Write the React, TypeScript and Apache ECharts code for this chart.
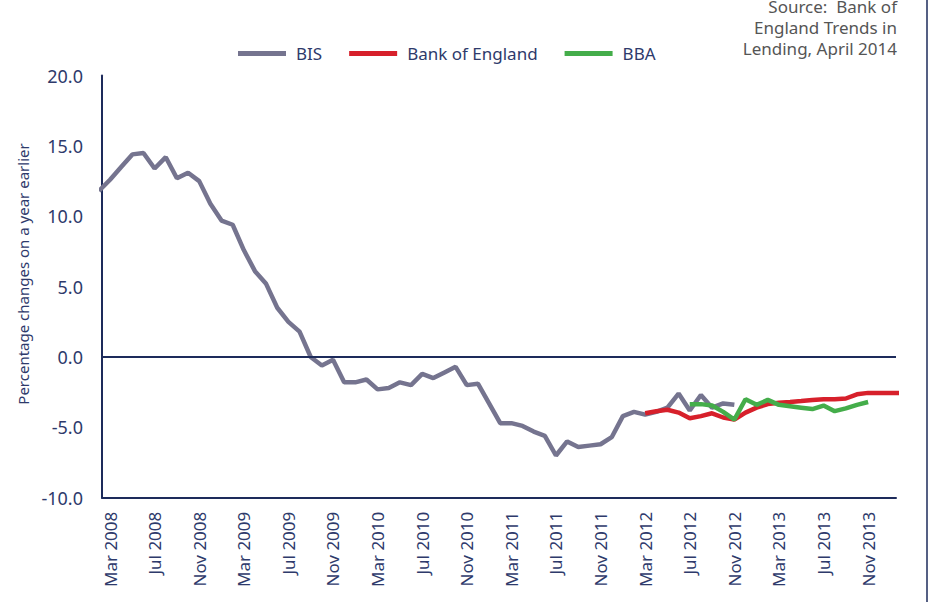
import React, { useEffect, useRef } from "react";
import * as echarts from "echarts";

const months = [
  "Feb 2008", "Mar 2008", "Apr 2008", "May 2008", "Jun 2008", "Jul 2008", "Aug 2008", "Sep 2008", "Oct 2008", "Nov 2008", "Dec 2008",
  "Jan 2009", "Feb 2009", "Mar 2009", "Apr 2009", "May 2009", "Jun 2009", "Jul 2009", "Aug 2009", "Sep 2009", "Oct 2009", "Nov 2009", "Dec 2009",
  "Jan 2010", "Feb 2010", "Mar 2010", "Apr 2010", "May 2010", "Jun 2010", "Jul 2010", "Aug 2010", "Sep 2010", "Oct 2010", "Nov 2010", "Dec 2010",
  "Jan 2011", "Feb 2011", "Mar 2011", "Apr 2011", "May 2011", "Jun 2011", "Jul 2011", "Aug 2011", "Sep 2011", "Oct 2011", "Nov 2011", "Dec 2011",
  "Jan 2012", "Feb 2012", "Mar 2012", "Apr 2012", "May 2012", "Jun 2012", "Jul 2012", "Aug 2012", "Sep 2012", "Oct 2012", "Nov 2012", "Dec 2012",
  "Jan 2013", "Feb 2013", "Mar 2013", "Apr 2013", "May 2013", "Jun 2013", "Jul 2013", "Aug 2013", "Sep 2013", "Oct 2013", "Nov 2013", "Dec 2013",
  "Jan 2014", "Feb 2014",
];

const tickLabels = [
  "Mar 2008", "Jul 2008", "Nov 2008", "Mar 2009", "Jul 2009", "Nov 2009", "Mar 2010", "Jul 2010", "Nov 2010",
  "Mar 2011", "Jul 2011", "Nov 2011", "Mar 2012", "Jul 2012", "Nov 2012", "Mar 2013", "Jul 2013", "Nov 2013",
];

const bisStart = "Feb 2008";
const bisValues = [
  11.8, 12.6, 13.5, 14.4, 14.5, 13.4, 14.2, 12.7, 13.1, 12.5, 10.9,
  9.7, 9.4, 7.6, 6.1, 5.2, 3.5, 2.5, 1.8, 0.0, -0.6, -0.2, -1.8,
  -1.8, -1.6, -2.3, -2.2, -1.8, -2.0, -1.2, -1.5, -1.1, -0.7, -2.0, -1.9,
  -3.3, -4.7, -4.7, -4.9, -5.3, -5.6, -7.0, -6.0, -6.4, -6.3, -6.2, -5.7,
  -4.2, -3.9, -4.1, -3.9, -3.6, -2.6, -3.8, -2.7, -3.6, -3.3, -3.4,
];

const boeStart = "Mar 2012";
const boeValues = [
  -4.0, -3.85, -3.75, -3.95, -4.35, -4.2, -4.0, -4.3, -4.45, -3.95, -3.6, -3.35,
  -3.25, -3.2, -3.13, -3.05, -3.0, -3.0, -2.95, -2.65, -2.55, -2.55, -2.55, -2.55,
];

const bbaStart = "Jul 2012";
const bbaValues = [
  -3.35, -3.35, -3.45, -3.9, -4.45, -3.0, -3.4, -3.05, -3.4, -3.5, -3.6, -3.7,
  -3.45, -3.85, -3.65, -3.4, -3.2,
];

const sourceLines = ["Source:  Bank of", "England Trends in", "Lending, April 2014"];
const yAxisTitle = "Percentage changes on a year earlier";

const NAVY = "#1d2b5b";
const LABEL = "#2e3a6b";
const FONT = "Noto Sans";

function toPairs(start: string, values: number[]) {
  const s = months.indexOf(start);
  return values.map((v, k) => [s + k, v]);
}

export default function App() {
  const ref = useRef<HTMLDivElement>(null);
  useEffect(() => {
    if (!ref.current) return;
    const chart = echarts.init(ref.current, null, { renderer: "svg" });
    const tickIdx = tickLabels.map((l) => months.indexOf(l));
    const option = {
      animation: false,
      grid: { left: 102, right: 37, top: 75.6, bottom: 104.3 },
      legend: {
        left: 233,
        top: 40,
        icon: "rect",
        itemWidth: 48,
        itemHeight: 5,
        itemGap: 27,
        textStyle: { fontFamily: FONT, fontSize: 17, color: LABEL, padding: [0, 0, 0, 5] },
        data: ["BIS", "Bank of England", "BBA"],
      },
      xAxis: {
        type: "value",
        min: 0.28,
        max: 71.5,
        axisLine: { show: true, onZero: false, lineStyle: { color: NAVY, width: 2 } },
        axisTick: { show: false },
        splitLine: { show: false },
        axisLabel: {
          customValues: tickIdx,
          formatter: (v: number) => months[Math.round(v)],
          rotate: 90,
          margin: 14,
          fontFamily: FONT,
          fontSize: 17,
          color: LABEL,
        },
      },
      yAxis: {
        type: "value",
        min: -10,
        max: 20,
        interval: 5,
        axisLine: { show: true, onZero: false, lineStyle: { color: NAVY, width: 2 } },
        axisTick: { show: false },
        splitLine: { show: false },
        axisLabel: {
          formatter: (v: number) => v.toFixed(1),
          margin: 19,
          fontFamily: FONT,
          fontSize: 18,
          color: LABEL,
        },
      },
      graphic: [
        {
          type: "text",
          x: 23,
          y: 274,
          rotation: Math.PI / 2,
          style: {
            text: yAxisTitle,
            fontFamily: FONT,
            fontSize: 15,
            fill: LABEL,
            align: "center",
            verticalAlign: "middle",
          },
        },
        {
          type: "text",
          x: 897,
          y: -4.5,
          style: {
            text: sourceLines.join("\n"),
            fontFamily: FONT,
            fontSize: 17,
            lineHeight: 21,
            fill: "#555555",
            align: "right",
            verticalAlign: "top",
          },
        },
        {
          type: "line",
          shape: { x1: 927, y1: 0, x2: 927, y2: 602 },
          style: { stroke: NAVY, lineWidth: 1.5 },
        },
      ],
      series: [
        {
          name: "zero",
          type: "line",
          data: [],
          silent: true,
          markLine: {
            silent: true,
            symbol: ["none", "none"],
            label: { show: false },
            lineStyle: { color: NAVY, width: 2, type: "solid" },
            data: [{ yAxis: 0 }],
          },
        },
        {
          name: "BIS",
          type: "line",
          data: toPairs(bisStart, bisValues),
          showSymbol: false,
          color: "#75748f",
          lineStyle: { width: 4.5, color: "#75748f" },
        },
        {
          name: "Bank of England",
          type: "line",
          data: toPairs(boeStart, boeValues),
          showSymbol: false,
          color: "#d7202b",
          lineStyle: { width: 4.5, color: "#d7202b" },
        },
        {
          name: "BBA",
          type: "line",
          data: toPairs(bbaStart, bbaValues),
          showSymbol: false,
          color: "#44ad4a",
          lineStyle: { width: 4.5, color: "#44ad4a" },
        },
      ],
    };
    chart.setOption(option as any);
    return () => chart.dispose();
  }, []);
  return (
    <div
      ref={ref}
      style={{ position: "fixed", left: 0, top: 0, width: 933, height: 602, background: "#ffffff" }}
    />
  );
}
